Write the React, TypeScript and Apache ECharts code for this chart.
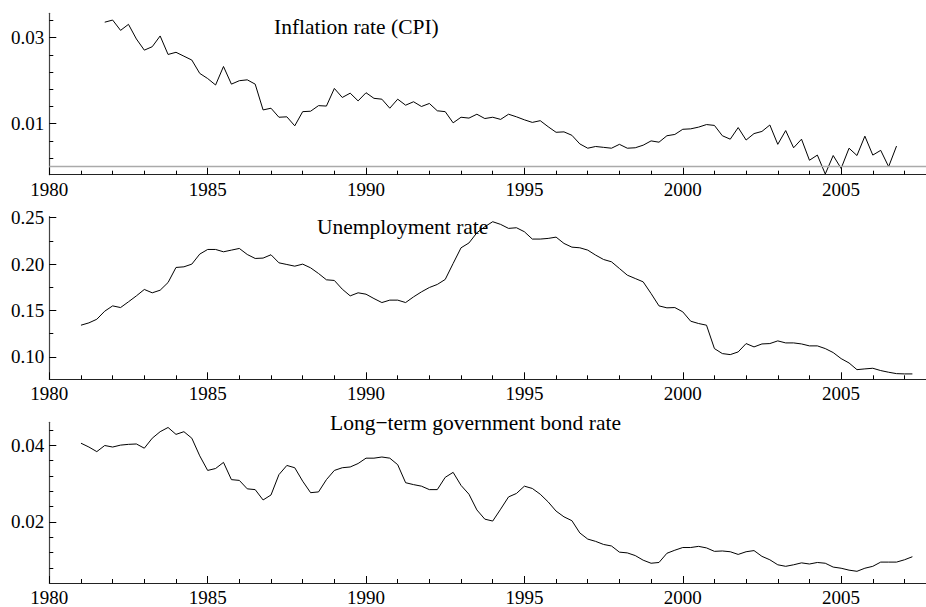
import React, { useEffect, useRef } from "react";
import * as echarts from "echarts";

// ---- Data (quarterly) ----
const inflationStart = 1981.75;
const inflation = [
  0.0336, 0.0341, 0.0317, 0.0331, 0.0297, 0.0271, 0.0279, 0.0304, 0.0261, 0.0266,
  0.0257, 0.0248, 0.0217, 0.0205, 0.019, 0.0233, 0.0192, 0.02, 0.0202, 0.0192,
  0.0132, 0.0136, 0.0115, 0.0116, 0.0095, 0.0128, 0.0129, 0.0142, 0.0141, 0.0182,
  0.0161, 0.0171, 0.0153, 0.0172, 0.0159, 0.0157, 0.0136, 0.0157, 0.0143, 0.0151,
  0.014, 0.0147, 0.013, 0.0128, 0.0102, 0.0115, 0.0113,
  0.0122, 0.0112, 0.0115, 0.011, 0.0122, 0.0116, 0.0109, 0.0103, 0.0107, 0.0093,
  0.008, 0.0081, 0.0073, 0.0053, 0.0043, 0.0047, 0.0045, 0.0043, 0.0052, 0.0043,
  0.0044, 0.005, 0.006, 0.0057, 0.0072, 0.0075, 0.0087, 0.0088, 0.0092, 0.0098,
  0.0096, 0.0072, 0.0064, 0.0091, 0.0062, 0.0077, 0.0082, 0.0097, 0.0052, 0.0084,
  0.0044, 0.0064, 0.0015, 0.0027, -0.0017, 0.0026, -0.0004, 0.0043, 0.0026, 0.0071,
  0.0027, 0.0038, 0.0, 0.0048,
];

const unemploymentStart = 1981.0;
const unemployment = [
  0.1342, 0.1367, 0.1406, 0.1493, 0.155, 0.1532, 0.1594, 0.1658, 0.1727, 0.1691,
  0.1719, 0.1802, 0.1964, 0.1971, 0.2, 0.2108, 0.2158, 0.2158, 0.2133, 0.2151,
  0.2169, 0.2104, 0.2061, 0.2065, 0.2101, 0.2014, 0.1996, 0.1978, 0.2, 0.196,
  0.1899, 0.1831, 0.1824, 0.173, 0.1658, 0.1691, 0.1676, 0.1629, 0.1586, 0.1612,
  0.1612, 0.1586, 0.1647, 0.1701, 0.1748, 0.1781, 0.1835, 0.2007, 0.2176, 0.2228,
  0.2338, 0.2403, 0.2457, 0.2428, 0.2385, 0.2392, 0.2349, 0.227, 0.227, 0.2277,
  0.2291, 0.2223, 0.2183, 0.2176, 0.2151, 0.2097, 0.205, 0.2025, 0.1953, 0.1881,
  0.1845, 0.1809, 0.1683, 0.155, 0.1529, 0.1532, 0.1486, 0.1385, 0.136, 0.1342,
  0.109, 0.1036, 0.1025, 0.1054, 0.1144, 0.1108, 0.114, 0.1144, 0.1173, 0.1151,
  0.1151, 0.114, 0.1119, 0.1119, 0.109, 0.1047, 0.0982, 0.0935, 0.0863, 0.0871,
  0.0878, 0.0853, 0.0835, 0.082, 0.0817, 0.0817,
];

const bondStart = 1981.0;
const bondRate = [
  0.0405, 0.0395, 0.0383, 0.0399, 0.0395, 0.04, 0.0402, 0.0403, 0.0392, 0.0418,
  0.0435, 0.0446, 0.0428, 0.0435, 0.0418, 0.0372, 0.0334, 0.0339, 0.0355, 0.031,
  0.0308, 0.0286, 0.0284, 0.0257, 0.027, 0.0323, 0.0347, 0.0341, 0.0306, 0.0276,
  0.0278, 0.031, 0.0334, 0.0341, 0.0343, 0.0352, 0.0366, 0.0366, 0.0369, 0.0366,
  0.0349, 0.0302, 0.0297, 0.0293, 0.0284, 0.0284, 0.0316, 0.0329, 0.0295, 0.0272,
  0.0231, 0.0207, 0.0202, 0.0233, 0.0265, 0.0274, 0.0293, 0.0287, 0.0272, 0.0252,
  0.0228, 0.0213, 0.0203, 0.0171, 0.0155, 0.0149, 0.0141, 0.0137, 0.0121, 0.0119,
  0.0112, 0.01, 0.0092, 0.0094, 0.0118, 0.0126, 0.0133, 0.0133, 0.0136, 0.0132,
  0.0123, 0.0124, 0.0122, 0.0115, 0.0122, 0.0125, 0.011, 0.0101, 0.0088, 0.0084,
  0.0088, 0.0093, 0.009, 0.0094, 0.0092, 0.0082, 0.0079, 0.0074, 0.0071, 0.0079,
  0.0084, 0.0095, 0.0095, 0.0095, 0.0101, 0.0109,
];

// ---- Tick labels ----
const titles = ["Inflation rate (CPI)", "Unemployment rate", "Long\u2212term government bond rate"];
const xLabelYears = [1980, 1985, 1990, 1995, 2000, 2005];
const xMinorYears = [
  1981, 1982, 1983, 1984, 1986, 1987, 1988, 1989, 1991, 1992, 1993, 1994,
  1996, 1997, 1998, 1999, 2001, 2002, 2003, 2004, 2006, 2007,
];
const yLabels1 = [0.01, 0.03];
const yMinor1 = [0.002, 0.006, 0.014, 0.018, 0.022, 0.026, 0.034];
const yLabels2 = [0.1, 0.15, 0.2, 0.25];
const yMinor2 = [0.125, 0.175, 0.225];
const yLabels3 = [0.02, 0.04];
const yMinor3 = [0.008, 0.012, 0.016, 0.024, 0.028, 0.032, 0.036, 0.044];

const SERIF = "Liberation Serif, Times New Roman, serif";
const X_MIN = 1980;
const X_MAX = 2007.68;

function toPairs(start: number, vals: number[]) {
  return vals.map((v, i) => [start + i * 0.25, v]);
}

function xAxesFor(gridIndex: number) {
  return [
    {
      type: "value",
      gridIndex,
      min: X_MIN,
      max: X_MAX,
      position: "bottom",
      axisLine: { show: true, onZero: false, lineStyle: { color: "#222", width: 1 } },
      axisTick: { show: true, inside: true, length: 7, customValues: xLabelYears, lineStyle: { color: "#000", width: 1 } },
      axisLabel: {
        show: true,
        customValues: xLabelYears,
        margin: 5,
        fontFamily: SERIF,
        fontSize: 19,
        color: "#000",
        formatter: (v: number) => String(v),
      },
      splitLine: { show: false },
    },
    {
      type: "value",
      gridIndex,
      min: X_MIN,
      max: X_MAX,
      position: "bottom",
      axisLine: { show: false, onZero: false },
      axisTick: { show: true, inside: true, length: 4, customValues: xMinorYears, lineStyle: { color: "#000", width: 1 } },
      axisLabel: { show: false },
      splitLine: { show: false },
    },
  ];
}

function yAxesFor(gridIndex: number, min: number, max: number, labels: number[], minor: number[]) {
  return [
    {
      type: "value",
      gridIndex,
      min,
      max,
      position: "left",
      axisLine: { show: true, onZero: false, lineStyle: { color: "#444", width: 1.2 } },
      axisTick: { show: true, inside: true, length: 7, customValues: labels, lineStyle: { color: "#000", width: 1 } },
      axisLabel: {
        show: true,
        customValues: labels,
        margin: 5,
        fontFamily: SERIF,
        fontSize: 19,
        color: "#000",
        formatter: (v: number) => v.toFixed(2),
      },
      splitLine: { show: false },
    },
    {
      type: "value",
      gridIndex,
      min,
      max,
      position: "left",
      axisLine: { show: false, onZero: false },
      axisTick: { show: true, inside: true, length: 4, customValues: minor, lineStyle: { color: "#000", width: 1 } },
      axisLabel: { show: false },
      splitLine: { show: false },
    },
  ];
}

export default function App() {
  const ref = useRef<HTMLDivElement>(null);

  useEffect(() => {
    if (!ref.current) return;
    const chart = echarts.init(ref.current, undefined, { renderer: "svg" });
    const left = 49.3;
    const width = 876.7;

    const lineSeries = (idx: number, data: number[][], extra: any = {}) => ({
      type: "line",
      xAxisIndex: idx * 2,
      yAxisIndex: idx * 2,
      data,
      showSymbol: false,
      symbol: "none",
      lineStyle: { color: "#000", width: 1 },
      ...extra,
    });

    const titleFont = `21.5px ${SERIF}`;
    const option: any = {
      animation: false,
      backgroundColor: "#fff",
      grid: [
        { left, width, top: 13.3, height: 161.4 },
        { left, width, top: 216.7, height: 162.6 },
        { left, width, top: 422.3, height: 162 },
      ],
      xAxis: [...xAxesFor(0), ...xAxesFor(1), ...xAxesFor(2)],
      yAxis: [
        ...yAxesFor(0, -0.00186, 0.03567, yLabels1, yMinor1),
        ...yAxesFor(1, 0.0759, 0.2511, yLabels2, yMinor2),
        ...yAxesFor(2, 0.00405, 0.04595, yLabels3, yMinor3),
      ],
      graphic: [
        { type: "text", left: 274, top: 16, style: { text: titles[0], font: titleFont, fill: "#000" } },
        { type: "text", left: 317, top: 215.5, style: { text: titles[1], font: titleFont, fill: "#000" } },
        { type: "text", left: 330, top: 412, style: { text: titles[2], font: titleFont, fill: "#000" } },
      ],
      series: [
        lineSeries(0, toPairs(inflationStart, inflation), {
          markLine: {
            silent: true,
            symbol: "none",
            label: { show: false },
            lineStyle: { color: "#aaa", width: 1.4, type: "solid" },
            data: [{ yAxis: 0 }],
          },
        }),
        lineSeries(1, toPairs(unemploymentStart, unemployment)),
        lineSeries(2, toPairs(bondStart, bondRate)),
      ],
    };
    chart.setOption(option);
    return () => chart.dispose();
  }, []);

  return (
    <div
      ref={ref}
      style={{ position: "fixed", left: 0, top: 0, width: 926, height: 607, background: "#fff" }}
    />
  );
}
